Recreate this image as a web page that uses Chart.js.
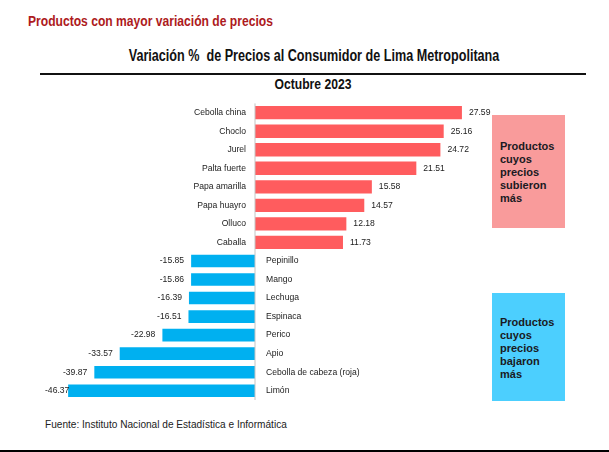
<!doctype html>
<html lang="es">
<head>
<meta charset="utf-8">
<title>Variación % de Precios al Consumidor de Lima Metropolitana</title>
<style>
  * { box-sizing: border-box; margin: 0; padding: 0; }
  body { width: 609px; height: 452px; overflow: hidden; background: #fff; position: relative;
    font-family: "Liberation Sans", Arial, sans-serif; color: #1a1a1a; }
  /* no Arial Narrow here, so squeeze the bold face horizontally */
  .narrow { font-family: "Liberation Sans", Arial, sans-serif; font-weight: 700; position: absolute; white-space: pre; }
  .t1 { left: 28px; top: 12px; font-size: 15px; line-height: 17px; color: #ad1a20;
    transform: scaleX(0.807); transform-origin: left center; }
  .t2 { left: 0; width: 628px; text-align: center; top: 47px; font-size: 16px; line-height: 18px; color: #111;
    transform: scaleX(0.788); transform-origin: 314px center; }
  .t3 { left: 0; width: 626px; text-align: center; top: 75px; font-size: 15px; line-height: 17px; color: #111;
    transform: scaleX(0.81); transform-origin: 313px center; }
  .rule { position: absolute; left: 40px; top: 73px; width: 546px; height: 1.5px; background: #111; }
  .bottom { position: absolute; left: 0; top: 450px; width: 609px; height: 2px; background: #000; }
  .src { position: absolute; left: 45px; top: 419px; font-size: 10.1px; line-height: 12px; color: #222; }
  .box { position: absolute; left: 492px; width: 73px; padding-left: 8px; font-weight: 700;
    font-size: 11px; line-height: 13px; color: #1a1a22; }
  .up { top: 115px; height: 113px; background: #f99b9b; padding-top: 24.5px; }
  .down { top: 293px; height: 108px; background: #4ccffe; padding-top: 22.5px; }
  .cw { position: absolute; left: 0; top: 95px; width: 609px; height: 315px; }
</style>
</head>
<body>
<div class="narrow t1">Productos con mayor variación de precios</div>
<div class="narrow t2">Variación %  de Precios al Consumidor de Lima Metropolitana</div>
<div class="rule"></div>
<div class="narrow t3">Octubre 2023</div>
<div class="cw"><canvas id="chart"></canvas></div>
<div class="box up">Productos<br>cuyos<br>precios<br>subieron<br>más</div>
<div class="box down">Productos<br>cuyos<br>precios<br>bajaron<br>más</div>
<div class="src">Fuente: Instituto Nacional de Estadística e Informática</div>
<div class="bottom"></div>

<script src="https://cdn.jsdelivr.net/npm/chart.js@4.4.1/dist/chart.umd.min.js"></script>
<script>
const upLabels = ["Cebolla china", "Choclo", "Jurel", "Palta fuerte", "Papa amarilla", "Papa huayro", "Olluco", "Caballa"];
const upValues = [27.59, 25.16, 24.72, 21.51, 15.58, 14.57, 12.18, 11.73];
const downLabels = ["Pepinillo", "Mango", "Lechuga", "Espinaca", "Perico", "Apio", "Cebolla de cabeza (roja)", "Limón"];
const downValues = [-15.85, -15.86, -16.39, -16.51, -22.98, -33.57, -39.87, -46.37];

const red = "#ff5c5e", blue = "#00b0f0";
const labels = upLabels.concat(downLabels);
const upData = upValues.concat(downValues.map(() => null));
const downData = upValues.map(() => null).concat(downValues);
const fmt = v => v.toFixed(2);

// category names on the opposite side of zero, values at the bar tips
const barLabels = {
  id: "barLabels",
  afterDatasetsDraw(chart) {
    const ctx = chart.ctx, area = chart.chartArea;
    const x0 = chart.scales.x.getPixelForValue(0);
    ctx.save();
    ctx.strokeStyle = "#c4c4c4"; ctx.lineWidth = 1;
    ctx.beginPath(); ctx.moveTo(x0, area.top); ctx.lineTo(x0, area.bottom); ctx.stroke();
    ctx.font = "8.6px 'Liberation Sans', Arial, sans-serif";
    ctx.fillStyle = "#222"; ctx.textBaseline = "middle";
    chart.data.datasets.forEach((ds, di) => {
      chart.getDatasetMeta(di).data.forEach((bar, i) => {
        const v = ds.data[i];
        if (v === null) return;
        const y = bar.y;
        if (v >= 0) {
          ctx.textAlign = "right"; ctx.fillText(labels[i], x0 - 9, y);
          ctx.textAlign = "left"; ctx.fillText(fmt(v), bar.x + 7, y);
        } else {
          ctx.textAlign = "left"; ctx.fillText(labels[i], x0 + 11, y);
          const t = fmt(v), w = ctx.measureText(t).width;
          ctx.textAlign = "right"; ctx.fillText(t, Math.max(bar.x - 7, area.left + 5 + w), y);
        }
      });
    });
    ctx.restore();
  }
};

new Chart(document.getElementById("chart"), {
  type: "bar",
  data: { labels, datasets: [
    { data: upData, backgroundColor: red, xAxisID: "x", grouped: false, barPercentage: 0.72, categoryPercentage: 1 },
    { data: downData, backgroundColor: blue, xAxisID: "x2", grouped: false, barPercentage: 0.68, categoryPercentage: 1 } ] },
  options: {
    indexAxis: "y", responsive: true, maintainAspectRatio: false, animation: false,
    layout: { padding: { left: 40, right: 129, top: 8.4, bottom: 10 } },
    scales: {
      x: { display: false, min: -28.67, max: 30 },
      x2: { display: false, min: -53.35, max: 55.83 },
      y: { display: false }
    },
    plugins: { legend: { display: false }, tooltip: { enabled: false } }
  },
  plugins: [barLabels]
});
</script>
</body>
</html>
